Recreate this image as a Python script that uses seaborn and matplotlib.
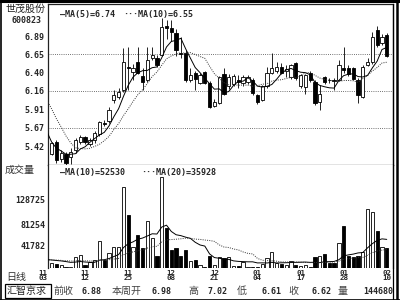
import numpy as np
import pandas as pd
import matplotlib
matplotlib.use("Agg")
import matplotlib.pyplot as plt
import seaborn as sns
from matplotlib.lines import Line2D
from matplotlib.patches import Rectangle

# ---------------- data ----------------
opens = [5.32, 5.48, 5.25, 5.32, 5.28, 5.37, 5.48, 5.55, 5.45, 5.50,
         5.58, 5.73, 5.76, 6.04, 6.08, 6.17, 6.48, 6.41, 6.55, 6.36,
         6.31, 6.60, 6.60, 6.64, 7.02, 7.00, 6.93, 6.67, 6.67, 6.31,
         6.40, 6.27, 6.41, 6.27, 5.96, 6.00, 6.38, 6.22, 6.25, 6.31,
         6.27, 6.28, 6.31, 6.10, 6.04, 6.22, 6.40, 6.42, 6.48, 6.42,
         6.35, 6.53, 6.22, 6.21, 6.40, 6.28, 6.01, 6.34, 6.31, 6.31,
         6.31, 6.46, 6.46, 6.46, 6.31, 6.08, 6.51, 6.55, 6.97, 6.80, 6.91]
highs = [5.48, 5.50, 5.37, 5.34, 5.40, 5.53, 5.57, 5.56, 5.53, 5.62,
         5.76, 5.77, 5.95, 6.17, 6.20, 6.73, 6.75, 6.52, 6.75, 6.47,
         6.75, 6.75, 6.64, 7.13, 7.10, 7.10, 6.98, 6.88, 6.70, 6.47,
         6.42, 6.40, 6.43, 6.29, 6.05, 6.36, 6.47, 6.38, 6.38, 6.37,
         6.37, 6.37, 6.33, 6.12, 6.24, 6.48, 6.67, 6.55, 6.53, 6.50,
         6.52, 6.55, 6.38, 6.39, 6.42, 6.30, 6.24, 6.36, 6.33, 6.33,
         6.57, 6.75, 6.50, 6.48, 6.33, 6.50, 6.60, 6.95, 7.03, 6.92, 6.93]
lows = [5.30, 5.20, 5.21, 5.17, 5.19, 5.33, 5.45, 5.45, 5.42, 5.47,
        5.56, 5.69, 5.73, 6.00, 6.05, 6.14, 6.17, 6.30, 6.38, 6.17,
        6.28, 6.57, 6.48, 6.62, 6.85, 6.83, 6.62, 6.60, 6.28, 6.28,
        6.17, 6.25, 6.25, 5.93, 5.94, 5.98, 6.10, 6.18, 6.22, 6.20,
        6.22, 6.25, 6.10, 5.99, 6.02, 6.20, 6.38, 6.40, 6.38, 6.35,
        6.32, 6.30, 6.20, 6.12, 6.28, 5.97, 5.91, 6.25, 6.27, 6.17,
        6.29, 6.40, 6.36, 6.30, 6.00, 6.06, 6.49, 6.52, 6.74, 6.77, 6.61]
closes = [5.46, 5.24, 5.33, 5.20, 5.35, 5.50, 5.55, 5.48, 5.50, 5.60,
          5.74, 5.72, 5.91, 6.11, 6.14, 6.55, 6.46, 6.46, 6.40, 6.28,
          6.57, 6.64, 6.51, 7.01, 7.00, 6.94, 6.71, 6.65, 6.31, 6.37,
          6.32, 6.37, 6.27, 5.95, 6.01, 6.34, 6.12, 6.34, 6.36, 6.28,
          6.35, 6.35, 6.13, 6.01, 6.22, 6.40, 6.47, 6.48, 6.40, 6.45,
          6.50, 6.33, 6.37, 6.37, 6.31, 6.00, 6.12, 6.28, 6.30, 6.29,
          6.51, 6.44, 6.38, 6.32, 6.11, 6.48, 6.55, 6.88, 6.77, 6.88, 6.62]
volumes = [8900, 7750, 5860, 2600, 2600, 21500, 25300, 6400, 10800, 15300,
           49900, 15300, 27800, 40400, 39100, 152500, 99000, 40400, 61200, 37300,
           88300, 56900, 23400, 170900, 75000, 34200, 37300, 23400, 32900, 14000,
           15300, 6400, 2600, 23400, 6400, 21500, 18300, 21500, 4500, 4500,
           10800, 2600, 2600, 2600, 7700, 19100, 31000, 8900, 7700, 6400,
           14000, 6400, 4500, 6400, 1500, 21500, 23400, 26600, 8900, 10000,
           46700, 78200, 23400, 21000, 23400, 29700, 111700, 105300, 68800, 39100, 37300]
# closes / volumes before the first visible day (feed the moving averages)
prev_close = [6.60, 6.55, 6.45, 6.38, 6.28, 6.16, 5.65, 5.52, 5.42, 5.35]
prev_volume = [17000, 15500, 16800, 14200, 15900, 16400, 13800, 15100, 16600, 14700,
               15800, 16900, 14300, 15200, 17100, 16200, 14900, 15600, 16100, 15400]

date_idx = [-1.8, 7, 16, 25, 34, 43, 52, 61, 70]
date_labels = ["11\n03", "11\n12", "11\n25", "12\n08", "12\n21",
               "01\n04", "01\n17", "01\n28", "02\n10"]
price_ticks = [6.89, 6.65, 6.40, 6.16, 5.91, 5.67, 5.42]
price_grid = [6.65, 6.16, 5.67]
vol_ticks = [128725, 81254, 41782]

stock_name = "世茂股份"
stock_code = "600823"
ma_price_text = ["—MA(5)=6.74", "···MA(10)=6.55"]
ma_vol_text = ["—MA(10)=52530", "···MA(20)=35928"]
footer = [("前收", "cjk"), ("6.88", "num"), ("本周开", "cjk"), ("6.98", "num"),
          ("高", "cjk"), ("7.02", "num"), ("低", "cjk"), ("6.61", "num"),
          ("收", "cjk"), ("6.62", "num"), ("量", "cjk"), ("144680", "num")]

# ---------------- derived ----------------
n = len(closes)
idx = np.arange(n)
full_close = pd.Series(prev_close + closes, index=np.arange(-len(prev_close), n))
ma5 = full_close.rolling(5).mean()
ma10 = full_close.rolling(10).mean()
full_vol = pd.Series(prev_volume + volumes, index=np.arange(-len(prev_volume), n))
vma10 = full_vol.rolling(10).mean()
vma20 = full_vol.rolling(20).mean()

df = pd.DataFrame({"i": idx, "open": opens, "high": highs, "low": lows,
                   "close": closes, "vol": volumes})
df["up"] = df["close"] >= df["open"]

# ---------------- figure ----------------
sns.set_style("white")
plt.rcParams["font.family"] = ["DejaVu Sans Mono", "DejaVu Sans"]
W, H = 400, 300
fig = plt.figure(figsize=(4, 3), dpi=100)
fig.patch.set_facecolor("white")

def fx(x):
    return x / W

def fy(y):
    return 1 - y / H

MONO = dict(family="DejaVu Sans Mono", fontweight="bold")
CJK = dict(family=["Noto Sans CJK SC", "DejaVu Sans"])

L, R = 48, 392.5
axp = fig.add_axes([fx(L), fy(165), (R - L) / W, (165 - 4) / H])
axv = fig.add_axes([fx(L), fy(268), (R - L) / W, (268 - 165) / H])

xlim = (-0.75, 71.2)
BW = 0.68
LW = 0.6

# price panel
for g in price_grid:
    axp.axhline(g, color="#444444", lw=0.6, linestyle=(0, (1, 1.6)), zorder=0)
axp.vlines(df["i"], df["low"], df["high"], color="black", lw=LW, zorder=2)
body_bot = np.minimum(df["open"], df["close"])
body_h = np.maximum(np.abs(df["close"] - df["open"]), 0.012)
axp.bar(df["i"], body_h, bottom=body_bot, width=BW,
        color=np.where(df["up"], "white", "black"), edgecolor="black",
        linewidth=LW, zorder=3)
sel = ma5.index >= -1
sns.lineplot(x=ma5.index[sel], y=ma5.values[sel], ax=axp, color="black",
             lw=0.7, zorder=4)
sns.lineplot(x=ma10.index[sel], y=ma10.values[sel], ax=axp, color="#333333",
             lw=0.7, linestyle=(0, (1, 1.3)), zorder=4)
axp.set_xlim(*xlim)
axp.set_ylim(5.173, 7.319)
axp.set_yticks(price_ticks)
axp.set_yticklabels([f"{t:.2f}" for t in price_ticks], fontsize=6, **MONO)
axp.tick_params(axis="y", length=0, pad=2.5)
axp.set_xticks([])
axp.set_xlabel("")
axp.set_ylabel("")
for s in axp.spines.values():
    s.set_color("#222222")
    s.set_linewidth(0.9)

# volume panel
axv.bar(df["i"], df["vol"], width=BW,
        color=np.where(df["up"], "white", "black"), edgecolor="black",
        linewidth=LW, zorder=3)
sel = vma10.index >= -1
sns.lineplot(x=vma10.index[sel], y=vma10.values[sel], ax=axv, color="black",
             lw=0.7, zorder=4)
sns.lineplot(x=vma20.index[sel], y=vma20.values[sel], ax=axv, color="#333333",
             lw=0.7, linestyle=(0, (1, 1.3)), zorder=4)
axv.set_xlim(*xlim)
axv.set_ylim(0, 193550)
axv.set_yticks(vol_ticks)
axv.set_yticklabels([str(t) for t in vol_ticks], fontsize=6, **MONO)
axv.tick_params(axis="y", length=0, pad=2)
axv.set_xticks([])
axv.set_xlabel("")
axv.set_ylabel("")
axv.spines["top"].set_visible(False)
axv.spines["bottom"].set_visible(False)
for s in ("left", "right"):
    axv.spines[s].set_color("#222222")
    axv.spines[s].set_linewidth(0.9)

# date labels under the volume panel
for p, lab in zip(date_idx, date_labels):
    axv.text(p, -0.015, lab, transform=axv.get_xaxis_transform(),
             ha="center", va="top", fontsize=5.4, linespacing=0.95, **MONO)

# header texts
fig.text(fx(5), fy(8.5), stock_name, fontsize=7.2, va="center", ha="left",
         color="#222222", **CJK)
fig.text(fx(26), fy(20.5), stock_code, fontsize=6, va="center", ha="center", **MONO)
fig.text(fx(60), fy(14), ma_price_text[0], fontsize=6, va="center", ha="left", **MONO)
fig.text(fx(123), fy(14), ma_price_text[1], fontsize=6, va="center", ha="left", **MONO)
fig.text(fx(5), fy(170), "成交量", fontsize=7.2, va="center", ha="left",
         color="#333333", **CJK)
fig.text(fx(60), fy(172.5), ma_vol_text[0], fontsize=6, va="center", ha="left", **MONO)
fig.text(fx(141), fy(172.5), ma_vol_text[1], fontsize=6, va="center", ha="left", **MONO)
fig.text(fx(6), fy(277), "日线", fontsize=7.2, va="center", ha="left",
         color="#333333", **CJK)

# footer row
fig.text(fx(7), fy(291), "汇智京求", fontsize=7.2, va="center", ha="left",
         color="#222222", **CJK)
fig.add_artist(Rectangle((fx(4.5), fy(297.5)), (50.5 - 4.5) / W, (297.5 - 284) / H,
                         transform=fig.transFigure, fill=False, lw=0.9,
                         edgecolor="black"))
foot_x = [53, 102, 112, 172, 188, 227, 237, 281, 288, 332, 338, 393]
for (s, kind), x in zip(footer, foot_x):
    if kind == "cjk":
        fig.text(fx(x), fy(291), s, fontsize=7.2, va="center", ha="left",
                 color="#444444", **CJK)
    else:
        fig.text(fx(x), fy(291), s, fontsize=6, va="center", ha="right", **MONO)

# outer frame
def fline(xs, ys, lw=1.0, color="black"):
    fig.add_artist(Line2D([fx(v) for v in xs], [fy(v) for v in ys],
                          transform=fig.transFigure, lw=lw, color=color))

fline([0.5, 0.5], [0, 300], lw=1.2)
fline([0, 400], [1, 1], lw=2.2)
fline([0, 400], [299.5, 299.5], lw=1.2)
fline([396.5, 396.5], [0, 300], lw=1.8)
fline([392.5, 392.5], [4, 300], lw=0.9)

fig.savefig("out.png", dpi=100)
